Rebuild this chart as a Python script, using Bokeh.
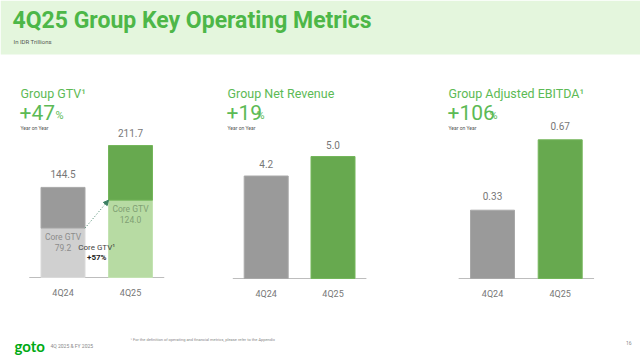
from bokeh.plotting import figure
from bokeh.models import Range1d, Arrow, NormalHead
from bokeh.core.properties import value
from bokeh.embed import file_html
from bokeh.resources import INLINE

# ---------------- data ----------------
quarters = ["4Q24", "4Q25"]
gtv_total = [144.5, 211.7]
gtv_core = [79.2, 124.0]
net_revenue = [4.2, 5.0]
adj_ebitda = [0.33, 0.67]
gtv_growth = "+47"
rev_growth = "+19"
ebitda_growth = "+106"
core_growth = "+57%"
panel_titles = ["Group GTV\u00b9", "Group Net Revenue", "Group Adjusted EBITDA\u00b9"]
gtv_labels = ["144.5", "211.7"]
core_labels = ["79.2", "124.0"]
rev_labels = ["4.2", "5.0"]
ebitda_labels = ["0.33", "0.67"]

# ---------------- styling ----------------
FONT = "Roboto"
GREEN_T = "#4db748"
GREEN_H = "#5cba55"
GRAY = "#9a9a9a"
GRAY_L = "#d0d0d0"
GREEN = "#67a94f"
GREEN_L = "#b7dba3"
LBL = "#777777"

W, H = 640, 356
p = figure(width=W, height=H, x_range=Range1d(0, W), y_range=Range1d(H, 0),
           output_backend="svg", toolbar_location=None, min_border=0,
           x_axis_location=None, y_axis_location=None)
p.grid.visible = False
p.outline_line_color = None
p.background_fill_color = "white"
p.border_fill_color = "white"


def txt(x, y, s, size, color, align="left", baseline="middle", style="normal",
        font=FONT, xr="default", yr="default", xo=0, yo=0):
    kw = {}
    if xr != "default":
        kw["x_range_name"] = xr
    if yr != "default":
        kw["y_range_name"] = yr
    p.text(x=x, y=y, text=s, text_font=value(font), text_font_size=value(size),
           text_color=color, text_align=align, text_baseline=baseline,
           text_font_style=style, x_offset=xo, y_offset=yo, **kw)


# header band
p.quad(left=[0], right=[W], top=[0], bottom=[54], fill_color="#e4f6dd", line_color=None)
txt([12], [20], ["4Q25 Group Key Operating Metrics"], "23px", GREEN_T, style="bold")
txt([13], [41], ["In IDR Trillions"], "6px", "#555555")

# panel geometry (reference pixels): bar centres, baseline, px per unit
panels = {
    "1": dict(cx=(62.5, 130.0), b=277.0, k=0.6235),
    "2": dict(cx=(265.7, 332.5), b=278.0, k=24.4),
    "3": dict(cx=(492.0, 559.7), b=278.0, k=207.0),
}
BAR_PX = 44.0
for key, g in panels.items():
    s = g["cx"][1] - g["cx"][0]
    g["s"] = s
    p.extra_x_ranges["x" + key] = Range1d((0 - g["cx"][0]) / s, (W - g["cx"][0]) / s)
    p.extra_y_ranges["y" + key] = Range1d(-(H - g["b"]) / g["k"], g["b"] / g["k"])

idx = [0, 1]

# headings
head_x = [20, 227, 448]
growths = [gtv_growth, rev_growth, ebitda_growth]
pct_x = [55, 256, 489]
for hx, t, gr, px in zip(head_x, panel_titles, growths, pct_x):
    txt([hx], [93], [t], "12.5px", GREEN_H)
    txt([hx - 1], [112], [gr], "21px", GREEN_H)
    txt([px], [115], ["%"], "11px", GREEN_H)
    txt([hx], [127], ["Year on Year"], "5px", "#555555")

# baselines
for key in panels:
    p.segment(x0=[-0.5], x1=[1.5], y0=[0], y1=[0], line_color="#bdbdbd", line_width=1,
              x_range_name="x" + key, y_range_name="y" + key)

# ---- panel 1: stacked GTV ----
g = panels["1"]
bw = BAR_PX / g["s"]
p.vbar(x=idx, bottom=[0, 0], top=gtv_core, width=bw, fill_color=[GRAY_L, GREEN_L],
       line_color=["#dadada", "#c3e3b2"], line_width=1, x_range_name="x1", y_range_name="y1")
p.vbar(x=idx, bottom=gtv_core, top=gtv_total, width=bw, fill_color=[GRAY, GREEN],
       line_color=["#a8a8a8", "#74b65b"], line_width=1, x_range_name="x1", y_range_name="y1")
txt(idx, gtv_total, gtv_labels, "10px", LBL, align="center", xr="x1", yr="y1", yo=-13)
txt(idx, gtv_core, ["Core GTV", "Core GTV"], "8.5px", ["#8c8c8c", "#7f9f73"], align="center",
    xr="x1", yr="y1", yo=9)
txt(idx, gtv_core, core_labels, "8.5px", ["#8c8c8c", "#7f9f73"], align="center",
    xr="x1", yr="y1", yo=19)
# growth annotation between the bars
txt([0.5], [gtv_core[0]], ["Core GTV\u00b9"], "8px", "#444444", align="center",
    xr="x1", yr="y1", yo=19)
txt([0.5], [gtv_core[0]], [core_growth], "8px", "#222222", align="center", style="bold",
    xr="x1", yr="y1", yo=29)
p.add_layout(Arrow(x_start=bw / 2, y_start=gtv_core[0], x_end=1 - bw / 2, y_end=gtv_core[1],
                   line_color="#3b7f62", line_width=1, line_dash="1 2",
                   end=NormalHead(size=5, fill_color="#3b7f62", line_color="#3b7f62"),
                   x_range_name="x1", y_range_name="y1"))

# ---- panel 2: net revenue ----
g = panels["2"]
bw = BAR_PX / g["s"]
p.vbar(x=idx, bottom=0, top=net_revenue, width=bw, fill_color=[GRAY, GREEN],
       line_color=["#a8a8a8", "#74b65b"], line_width=1, x_range_name="x2", y_range_name="y2")
txt(idx, net_revenue, rev_labels, "10px", LBL, align="center", xr="x2", yr="y2", yo=-12)

# ---- panel 3: adjusted EBITDA ----
g = panels["3"]
bw = BAR_PX / g["s"]
p.vbar(x=idx, bottom=0, top=adj_ebitda, width=bw, fill_color=[GRAY, GREEN],
       line_color=["#a8a8a8", "#74b65b"], line_width=1, x_range_name="x3", y_range_name="y3")
txt(idx, adj_ebitda, ebitda_labels, "10px", LBL, align="center", xr="x3", yr="y3", yo=-14)

# category labels
for key in panels:
    txt(idx, [0, 0], quarters, "9px", LBL, align="center", xr="x" + key, yr="y" + key, yo=15)

# footer
txt([14], [345], ["goto"], "15px", "#00aa13", style="bold", font="Lato")
txt([50], [345], ["4Q 2025 & FY 2025"], "5px", "#888888")
txt([130], [339], ["\u00b9 For the definition of operating and financial metrics, please refer to the Appendix"],
    "4px", "#888888")
txt([631], [342], ["16"], "5px", "#888888", align="right")

open("out.html", "w").write(file_html(p, INLINE))
